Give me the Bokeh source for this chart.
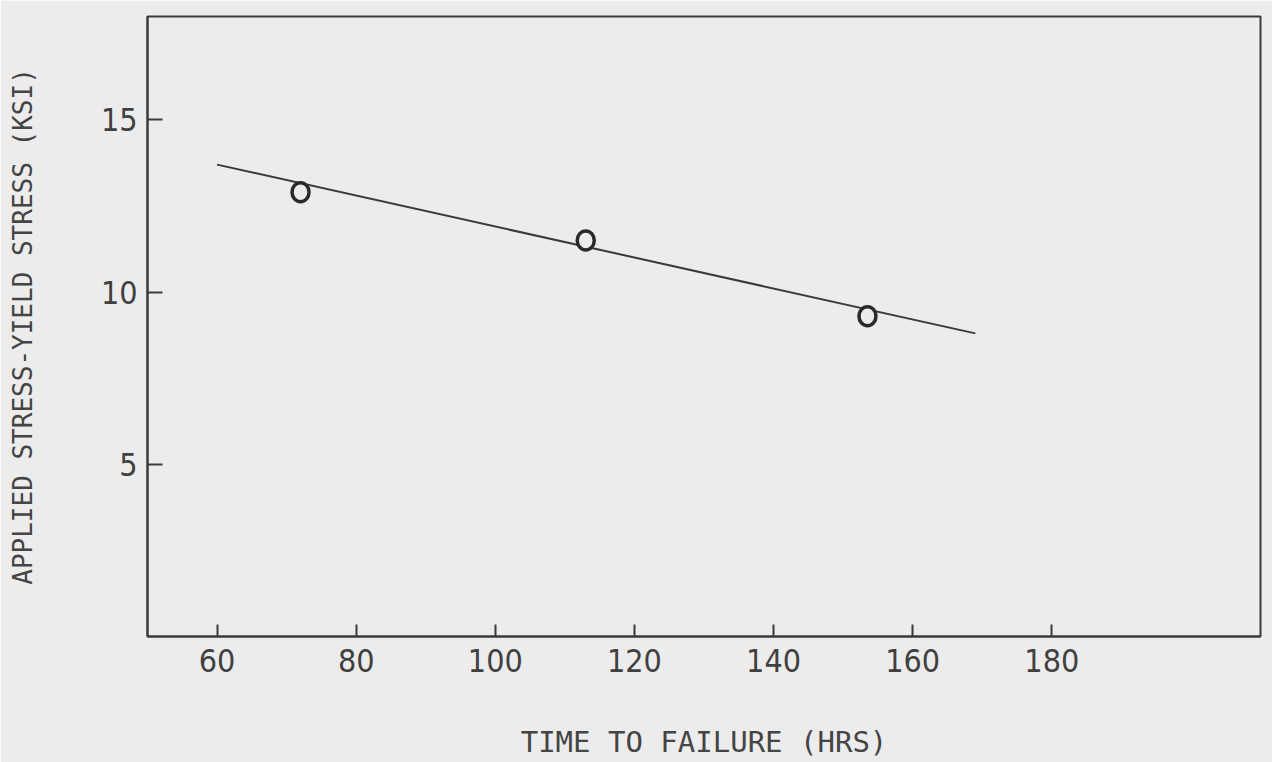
from bokeh.plotting import figure
from bokeh.models import Range1d, FixedTicker
from bokeh.embed import file_html
from bokeh.resources import INLINE

# Measured times to failure (hrs) and applied stress minus yield stress (ksi)
time_hrs = [72, 113, 153.5]
stress_ksi = [12.9, 11.5, 9.3]

# Straight fitted trend drawn through the data
fit_time = [60, 169]
fit_stress = [13.7, 8.8]

x_ticks = [60, 80, 100, 120, 140, 160, 180]
y_ticks = [5, 10, 15]

PAPER = "#ececec"
INK = "#3a3a3a"
TICK_FONT = "'DejaVu Sans Condensed', 'Liberation Sans Narrow', 'DejaVu Sans', sans-serif"
LABEL_FONT = "'DejaVu Sans Mono', monospace"

p = figure(width=1272, height=762, output_backend="svg", toolbar_location=None,
           x_range=Range1d(50, 210), y_range=Range1d(0, 18),
           min_border_left=147, min_border_right=12,
           min_border_top=16, min_border_bottom=126)

p.background_fill_color = PAPER
p.border_fill_color = PAPER
p.outline_line_color = INK
p.outline_line_width = 2
p.xgrid.visible = False
p.ygrid.visible = False

for ax in (p.xaxis[0], p.yaxis[0]):
    ax.axis_line_color = INK
    ax.axis_line_width = 2
    ax.major_tick_line_color = INK
    ax.major_tick_line_width = 2
    ax.major_tick_out = 0
    ax.minor_tick_line_color = None
    ax.major_label_text_font = TICK_FONT
    ax.major_label_text_font_size = "32px"
    ax.major_label_text_color = "#404040"
    ax.axis_label_text_font = LABEL_FONT
    ax.axis_label_text_font_style = "normal"
    ax.axis_label_text_color = "#444444"

p.xaxis.ticker = FixedTicker(ticks=x_ticks)
p.yaxis.ticker = FixedTicker(ticks=y_ticks)
p.xaxis.major_tick_in = 12
p.yaxis.major_tick_in = 15
p.xaxis.major_label_standoff = 12
p.yaxis.major_label_standoff = 10

p.xaxis.axis_label = "TIME TO FAILURE (HRS)"
p.xaxis.axis_label_text_font_size = "29px"
p.xaxis.axis_label_standoff = 50
p.yaxis.axis_label = "APPLIED STRESS-YIELD STRESS (KSI)"
p.yaxis.axis_label_text_font_size = "26px"
p.yaxis.axis_label_standoff = 60

p.line(fit_time, fit_stress, line_color=INK, line_width=2)
p.ellipse(x=time_hrs, y=stress_ksi, width=17, height=19,
          width_units="screen", height_units="screen",
          fill_color=PAPER, line_color="#2a2a2a", line_width=3.5)

open("out.html", "w").write(file_html(p, INLINE))
